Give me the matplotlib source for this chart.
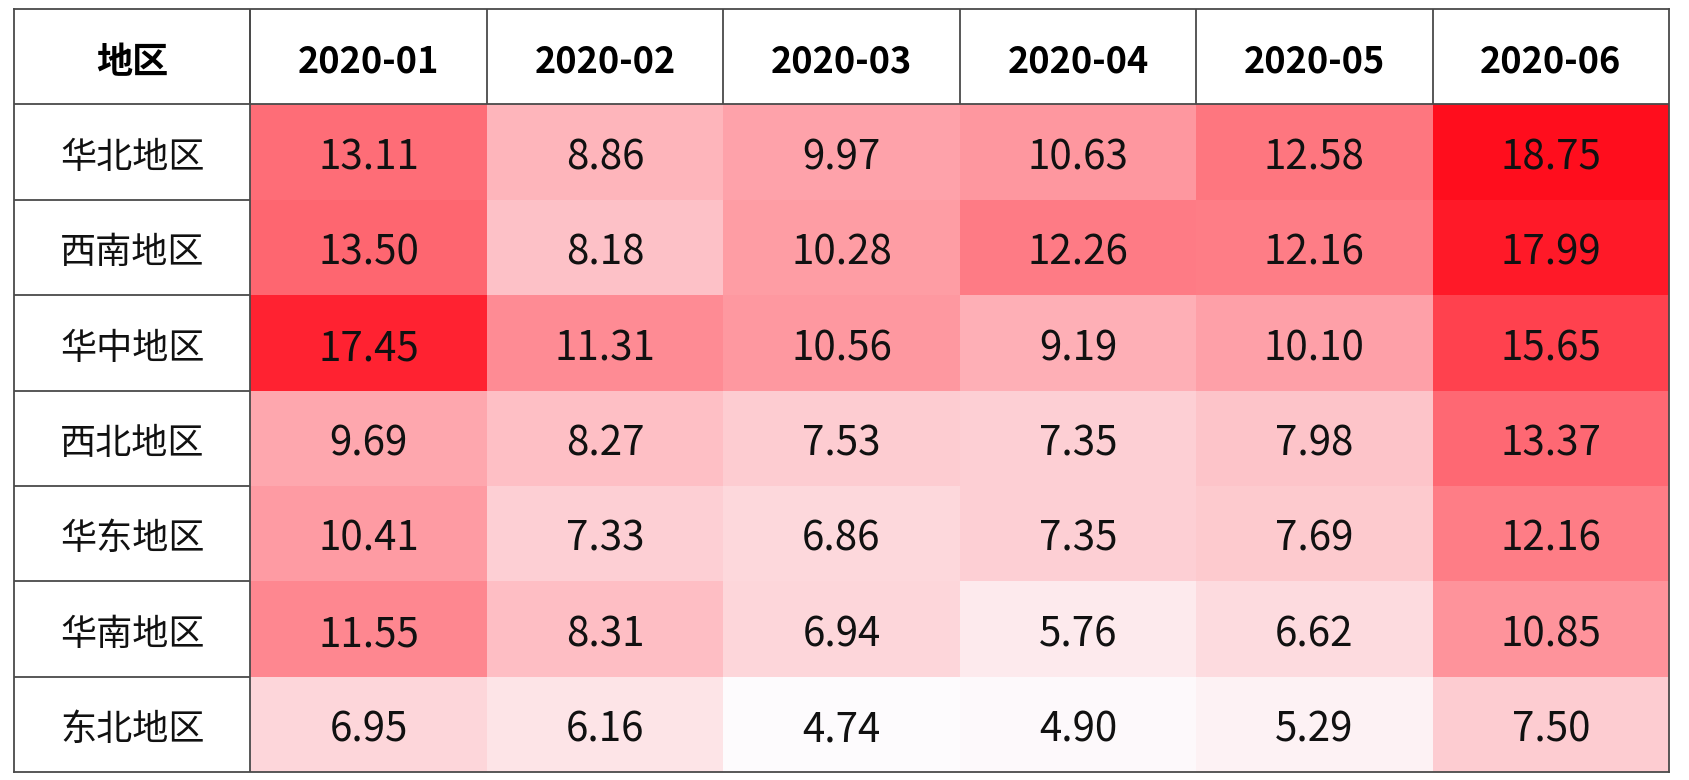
import matplotlib
matplotlib.use("Agg")
import matplotlib.pyplot as plt
import numpy as np
from matplotlib.colors import LinearSegmentedColormap

plt.rcParams['font.family'] = ['Noto Sans CJK SC', 'DejaVu Sans']

header_label = "地区"
months = ["2020-01", "2020-02", "2020-03", "2020-04", "2020-05", "2020-06"]
regions = ["华北地区", "西南地区", "华中地区", "西北地区", "华东地区", "华南地区", "东北地区"]
values = np.array([
    [13.11, 8.86, 9.97, 10.63, 12.58, 18.75],
    [13.50, 8.18, 10.28, 12.26, 12.16, 17.99],
    [17.45, 11.31, 10.56, 9.19, 10.10, 15.65],
    [9.69, 8.27, 7.53, 7.35, 7.98, 13.37],
    [10.41, 7.33, 6.86, 7.35, 7.69, 12.16],
    [11.55, 8.31, 6.94, 5.76, 6.62, 10.85],
    [6.95, 6.16, 4.74, 4.90, 5.29, 7.50],
])

cmap = LinearSegmentedColormap.from_list("wr", ["#FDFBFD", "#FF0D1D"])

W, H = 1690, 780
fig = plt.figure(figsize=(W / 100, H / 100), dpi=100)
left, right, top, bottom = 14, 1669, 9, 772
ax = fig.add_axes([left / W, (H - bottom) / H, (right - left) / W, (bottom - top) / H])

ncol = len(months) + 1
nrow = len(regions) + 1
ax.set_xlim(0, ncol)
ax.set_ylim(nrow, 0)

xe = np.arange(1, ncol + 1)
ye = np.arange(1, nrow + 1)
ax.pcolormesh(xe, ye, values, cmap=cmap, vmin=values.min(), vmax=values.max(), shading='flat')

lc = "#4a4a4a"
lw = 1.3
ax.vlines(np.arange(1, ncol), 0, 1, colors=lc, linewidth=lw)
ax.vlines([1], 0, nrow, colors=lc, linewidth=lw)
ax.hlines([1], 0, ncol, colors=lc, linewidth=lw)
ax.hlines(np.arange(2, nrow), 0, 1, colors=lc, linewidth=lw)
for s in ax.spines.values():
    s.set_color(lc)
    s.set_linewidth(lw)
ax.set_xticks([])
ax.set_yticks([])

dy = 0.06
ax.text(0.5, 0.5 + dy, header_label, ha='center', va='center', fontsize=26, fontweight='bold', color='black')
for j, m in enumerate(months):
    ax.text(j + 1.5, 0.5 + dy, m, ha='center', va='center', fontsize=26, fontweight='bold', color='black')
for i, r in enumerate(regions):
    ax.text(0.5, i + 1.5 + dy, r, ha='center', va='center', fontsize=26, color='#111111')
    for j in range(len(months)):
        ax.text(j + 1.5, i + 1.5 + dy, f"{values[i, j]:.2f}", ha='center', va='center',
                fontsize=29, fontweight='light', color='#111111')

fig.savefig("out.png", dpi=100)
